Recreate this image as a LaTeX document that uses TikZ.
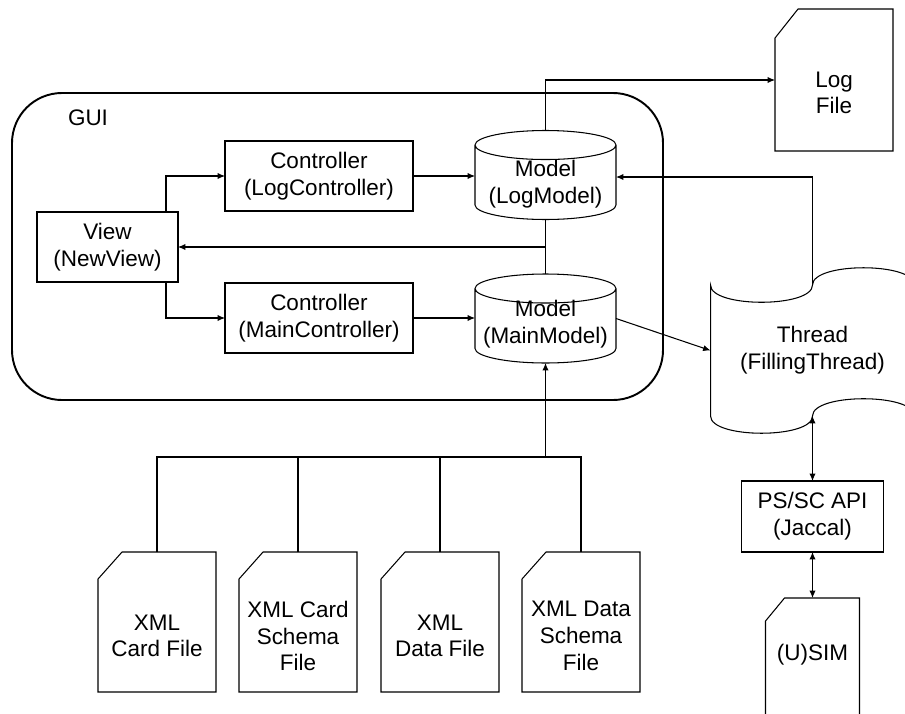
\documentclass[tikz,border=0pt]{standalone}
\usepackage{fontspec}
\setmainfont{Liberation Sans}
\usetikzlibrary{arrows.meta,calc}

\tikzset{
  box/.style={draw, minimum width=3.76cm, minimum height=1.4cm, inner sep=0pt, outer sep=0pt},
  cyl/.style={minimum width=2.82cm, minimum height=1.78cm, inner sep=0pt, outer sep=0pt},
  filebox/.style={minimum width=2.36cm, minimum height=2.8cm, inner sep=0pt, outer sep=0pt}
}

% cylinder outline round an empty node
\newcommand\drawcyl[1]{%
  \draw ($(#1.north west)+(0,-14.5)$) -- ($(#1.south west)+(0,14.5)$)
    arc[start angle=180, end angle=360, x radius=70.5, y radius=14.5]
    -- ($(#1.north east)+(0,-14.5)$)
    arc[start angle=0, end angle=360, x radius=70.5, y radius=14.5];}
% file outline with a cut corner: node, cut along x, cut along y
\newcommand\drawfile[3]{%
  \draw ($(#1.north west)+(#2,0)$) -- (#1.north east) -- (#1.south east)
    -- (#1.south west) -- ($(#1.north west)+(0,-#3)$) -- cycle;}

\begin{document}
\begin{tikzpicture}[x=0.02cm, y=0.02cm, line width=0.6pt,
    font=\fontsize{12.8}{15.2}\selectfont, every node/.append style={align=center},
    >={Latex[length=4.2pt,width=3.6pt]}]
  \useasboundingbox (0,0) rectangle (905,-713);
  \clip (0,0) rectangle (905,-713);

  % GUI frame
  \draw[line width=1.1pt, rounded corners=1cm] (12,-93) rectangle (663,-400);
  \node (gui) at (88,-118) {GUI};

  \node[box, minimum width=2.82cm] (view) at (107.5,-247) {View\\(NewView)};
  \node[box] (logctrl) at (319,-176) {Controller\\(LogController)};
  \node[box] (mainctrl) at (319,-318) {Controller\\(MainController)};

  \node[cyl] (logmodel) at (545.5,-175) {};
  \node[cyl] (mainmodel) at (545.5,-318.5) {};
  \drawcyl{logmodel}
  \drawcyl{mainmodel}
  \node (logmodeltext) at (545.5,-184) {Model\\(LogModel)};
  \node (mainmodeltext) at (545.5,-324) {Model\\(MainModel)};

  % thread
  \node[minimum width=4.08cm, minimum height=2.62cm, inner sep=0pt, outer sep=0pt]
    (thread) at (812.5,-350.5) {Thread\\(FillingThread)};
  \draw (thread.north west) .. controls +(0,-23) and +(0,-23) .. (thread.north)
    .. controls +(0,23) and +(0,23) .. (thread.north east) -- (thread.south east)
    .. controls +(0,23) and +(0,23) .. (thread.south)
    .. controls +(0,-23) and +(0,-23) .. (thread.south west) -- cycle;

  \node[box, minimum width=2.84cm, minimum height=1.42cm] (api) at (812.5,-516.5) {PS/SC API\\(Jaccal)};

  % files
  \node[filebox, minimum height=2.84cm] (logfile) at (834,-80) {};
  \drawfile{logfile}{23}{29}
  \node (logfiletext) at (834,-93) {Log\\File};
  \node[filebox, minimum width=1.88cm, minimum height=2.54cm] (sim) at (812.5,-661.5) {};
  \drawfile{sim}{19}{23}
  \node (simtext) at (812.5,-655) {(U)SIM};

  \node[filebox] (cardfile) at (157,-622) {};
  \node[filebox] (cardschemafile) at (298,-622) {};
  \node[filebox] (datafile) at (440,-622) {};
  \node[filebox] (dataschemafile) at (581,-622) {};
  \drawfile{cardfile}{24}{27}
  \drawfile{cardschemafile}{24}{27}
  \drawfile{datafile}{24}{27}
  \drawfile{dataschemafile}{24}{27}
  \node (cardfiletext) at (157,-636) {XML\\Card File};
  \node (cardschematext) at (298,-636) {XML Card\\Schema\\File};
  \node (datafiletext) at (440,-636) {XML\\Data File};
  \node (dataschematext) at (581,-636) {XML Data\\Schema\\File};

  % connectors
  \draw[->] ([xshift=-0.24cm]view.north east) |- (logctrl.west);
  \draw[->] ([xshift=-0.24cm]view.south east) |- (mainctrl.west);
  \draw[->] (logctrl.east) -- (logctrl.east -| logmodel.west);
  \draw[->] (mainctrl.east) -- (mainctrl.east -| mainmodel.west);
  \draw (logmodel.south) -- (mainmodel.north);
  \draw[->] (logmodel.south |- view.east) -- (view.east);
  \draw[->] (logmodel.north) |- (logfile.west);
  \draw[->] (thread.north) |- ([yshift=-0.04cm]logmodel.east);
  \draw[->] (mainmodel.east) -- (thread.west);
  \draw[<->] (thread.south) -- (api.north);
  \draw[<->] (api.south) -- (sim.north);

  \coordinate (bus) at (mainmodel.south |- 0,-457);
  \draw (cardfile.north) |- (bus) -| (dataschemafile.north);
  \draw (cardschemafile.north) -- (cardschemafile.north |- bus);
  \draw (datafile.north) -- (datafile.north |- bus);
  \draw[->] (bus) -- (mainmodel.south);
\end{tikzpicture}
\end{document}
